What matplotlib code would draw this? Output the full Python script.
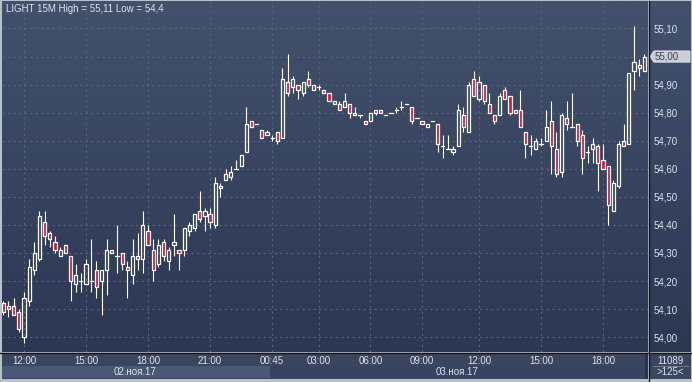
import numpy as np
import matplotlib
matplotlib.use("Agg")
import matplotlib.pyplot as plt
from matplotlib.patches import Rectangle, Polygon
from matplotlib import transforms

plt.rcParams["font.family"] = ["Liberation Sans", "DejaVu Sans"]

# 15-minute candles (125 bars)
opens = [54.12, 54.11, 54.11, 54.09, 54.00, 54.13, 54.24, 54.28, 54.41, 54.37,
         54.34, 54.29, 54.33, 54.29, 54.19, 54.20, 54.19, 54.20, 54.24, 54.20,
         54.24, 54.31, 54.29, 54.30, 54.25, 54.22, 54.28, 54.28, 54.38, 54.31,
         54.26, 54.34, 54.27, 54.33, 54.31, 54.31, 54.38, 54.39, 54.45, 54.43,
         54.44, 54.40, 54.53, 54.56, 54.57, 54.60, 54.61, 54.66, 54.77, 54.76,
         54.74, 54.72, 54.71, 54.73, 54.71, 54.91, 54.89, 54.90, 54.87, 54.92,
         54.88, 54.89, 54.88, 54.87, 54.83, 54.83, 54.82, 54.83, 54.79, 54.79,
         54.77, 54.77, 54.81, 54.81, 54.79, 54.80, 54.81, 54.82, 54.83, 54.82,
         54.78, 54.77, 54.75, 54.77, 54.76, 54.68, 54.67, 54.66, 54.68, 54.79,
         54.73, 54.92, 54.85, 54.90, 54.83, 54.79, 54.79, 54.88, 54.86, 54.81,
         54.81, 54.73, 54.68, 54.67, 54.69, 54.70, 54.77, 54.67, 54.59, 54.78,
         54.75, 54.76, 54.72, 54.66, 54.67, 54.68, 54.63, 54.61, 54.45, 54.54,
         54.70, 54.69, 54.95, 54.97, 54.95]
highs = [54.13, 54.13, 54.14, 54.10, 54.16, 54.28, 54.34, 54.45, 54.45, 54.38,
         54.36, 54.32, 54.33, 54.29, 54.26, 54.23, 54.28, 54.35, 54.27, 54.24,
         54.35, 54.31, 54.40, 54.30, 54.27, 54.35, 54.37, 54.45, 54.40, 54.35,
         54.35, 54.35, 54.32, 54.44, 54.31, 54.39, 54.41, 54.44, 54.52, 54.46,
         54.46, 54.57, 54.55, 54.60, 54.61, 54.63, 54.65, 54.82, 54.77, 54.76,
         54.74, 54.74, 54.72, 54.73, 54.96, 55.01, 54.93, 54.90, 54.91, 54.95,
         54.90, 54.90, 54.88, 54.87, 54.84, 54.84, 54.87, 54.83, 54.82, 54.79,
         54.77, 54.80, 54.81, 54.81, 54.79, 54.80, 54.82, 54.84, 54.83, 54.82,
         54.78, 54.77, 54.76, 54.77, 54.76, 54.72, 54.72, 54.68, 54.83, 54.82,
         54.91, 54.95, 54.93, 54.90, 54.87, 54.79, 54.87, 54.89, 54.86, 54.81,
         54.88, 54.73, 54.72, 54.71, 54.71, 54.81, 54.84, 54.73, 54.80, 54.84,
         54.87, 54.76, 54.74, 54.68, 54.71, 54.69, 54.69, 54.61, 54.56, 54.70,
         54.76, 54.94, 55.11, 54.99, 55.01]
lows = [54.08, 54.07, 54.08, 54.02, 53.98, 54.11, 54.22, 54.27, 54.33, 54.32,
        54.30, 54.29, 54.30, 54.13, 54.16, 54.16, 54.19, 54.16, 54.14, 54.08,
        54.15, 54.30, 54.23, 54.24, 54.14, 54.19, 54.24, 54.23, 54.33, 54.20,
        54.25, 54.27, 54.24, 54.29, 54.24, 54.29, 54.36, 54.38, 54.41, 54.38,
        54.39, 54.39, 54.50, 54.56, 54.56, 54.60, 54.61, 54.66, 54.75, 54.76,
        54.71, 54.72, 54.70, 54.69, 54.71, 54.86, 54.87, 54.85, 54.86, 54.89,
        54.88, 54.88, 54.87, 54.84, 54.83, 54.81, 54.82, 54.78, 54.79, 54.78,
        54.76, 54.77, 54.79, 54.80, 54.79, 54.80, 54.80, 54.81, 54.83, 54.76,
        54.78, 54.76, 54.75, 54.77, 54.66, 54.64, 54.67, 54.65, 54.68, 54.73,
        54.73, 54.86, 54.84, 54.83, 54.80, 54.76, 54.79, 54.85, 54.79, 54.80,
        54.75, 54.64, 54.65, 54.67, 54.68, 54.70, 54.58, 54.57, 54.57, 54.74,
        54.75, 54.68, 54.58, 54.62, 54.62, 54.52, 54.60, 54.40, 54.45, 54.53,
        54.68, 54.69, 54.88, 54.93, 54.95]
closes = [54.09, 54.10, 54.08, 54.03, 54.14, 54.25, 54.30, 54.43, 54.36, 54.35,
          54.31, 54.31, 54.30, 54.20, 54.22, 54.20, 54.26, 54.20, 54.18, 54.24,
          54.31, 54.30, 54.29, 54.26, 54.24, 54.29, 54.29, 54.40, 54.33, 54.24,
          54.33, 54.29, 54.31, 54.34, 54.30, 54.39, 54.40, 54.44, 54.42, 54.45,
          54.41, 54.55, 54.54, 54.58, 54.59, 54.60, 54.65, 54.76, 54.75, 54.76,
          54.71, 54.73, 54.71, 54.70, 54.92, 54.87, 54.92, 54.88, 54.91, 54.90,
          54.90, 54.89, 54.87, 54.84, 54.84, 54.81, 54.84, 54.80, 54.80, 54.79,
          54.76, 54.80, 54.80, 54.80, 54.79, 54.80, 54.81, 54.82, 54.83, 54.77,
          54.78, 54.76, 54.76, 54.77, 54.69, 54.68, 54.67, 54.67, 54.81, 54.75,
          54.90, 54.86, 54.91, 54.84, 54.80, 54.77, 54.86, 54.85, 54.80, 54.80,
          54.75, 54.69, 54.68, 54.70, 54.69, 54.75, 54.68, 54.58, 54.79, 54.76,
          54.75, 54.70, 54.64, 54.66, 54.69, 54.62, 54.60, 54.47, 54.55, 54.69,
          54.68, 54.94, 54.98, 54.96, 55.00]

time_ticks = [4, 16, 28, 40, 52, 61, 71, 81, 92, 104, 116]
time_labels = ["12:00", "15:00", "18:00", "21:00", "00:45", "03:00",
               "06:00", "09:00", "12:00", "15:00", "18:00"]
day_labels = ["02.ноя.17", "03.ноя.17"]
day_bounds = [(-0.7, 51.5), (51.5, 124.1)]
price_ticks = [54.0, 54.1, 54.2, 54.3, 54.4, 54.5, 54.6, 54.7, 54.8, 54.9, 55.0, 55.1]
title = "LIGHT 15M High = 55,11 Low = 54,4"
last_price = 55.00
bar_count = "11089"
zoom_label = ">125<"

W, H = 692, 382
TOP_BG, BOT_BG = np.array([0x43, 0x51, 0x6d]) / 255, np.array([0x2c, 0x37, 0x52]) / 255
TXT = "#dbe3ee"
GRID = "#56637e"
RED = "#e3103c"
PANEL = "#3a4660"


def box(x0, y0, x1, y1):
    return [x0 / W, 1 - y1 / H, (x1 - x0) / W, (y1 - y0) / H]


def gradient(a, top=TOP_BG, bot=BOT_BG):
    g = np.linspace(0, 1, 256)[:, None, None]
    img = top[None, None, :] * (1 - g) + bot[None, None, :] * g
    a.imshow(img, aspect="auto", extent=[0, 1, 0, 1], transform=a.transAxes,
             zorder=0, interpolation="bilinear")


def bare(a):
    a.set_xticks([])
    a.set_yticks([])
    for s in a.spines.values():
        s.set_visible(False)


fig = plt.figure(figsize=(W / 100, H / 100), dpi=100)
fig.patch.set_facecolor("#b7c1ce")

# right price-scale panel (background only)
axr = fig.add_axes(box(649, 1, 691, 352))
gradient(axr)
axr.set_axis_off()

# main price panel
ax = fig.add_axes(box(2, 1, 648, 352))
gradient(ax)
ax.set_xlim(-0.25, 124.7)
ax.set_ylim(53.947, 55.198)
for s in ax.spines.values():
    s.set_visible(False)
ax.set_xticks([])
ax.yaxis.tick_right()
ax.set_yticks(price_ticks)
ax.set_yticklabels([f"{p:.2f}".replace(".", ",") for p in price_ticks],
                   color=TXT, fontsize=7)
ax.tick_params(axis="y", length=0, pad=4)

for p in price_ticks:
    ax.axhline(p, color=GRID, lw=0.8, ls=(0, (2, 3)), zorder=1)
for t in time_ticks:
    ax.axvline(t, color=GRID, lw=0.8, ls=(0, (2, 3)), zorder=1)

bw = 0.62
for i, (o, h, l, c) in enumerate(zip(opens, highs, lows, closes)):
    top, bot = max(o, c), min(o, c)
    if h > top:
        ax.plot([i, i], [top, h], color="white", lw=0.8, zorder=3, solid_capstyle="butt")
    if l < bot:
        ax.plot([i, i], [l, bot], color="white", lw=0.8, zorder=3, solid_capstyle="butt")
    if abs(c - o) < 0.005:
        ax.plot([i - bw / 2, i + bw / 2], [o, o], color="white", lw=0.9, zorder=4)
    else:
        fc = RED if c < o else "none"
        ax.add_patch(Rectangle((i - bw / 2, bot), bw, top - bot, facecolor=fc,
                               edgecolor="white", lw=0.9, zorder=4))

ax.text(4 / 646, 1 - 7.5 / 351, title, transform=ax.transAxes, color=TXT,
        fontsize=7, va="center", ha="left", zorder=6)

# last price marker
tr = transforms.blended_transform_factory(fig.transFigure, ax.transData)
hh = 0.02
marker = Polygon([(650 / W, last_price), (654 / W, last_price + hh), (690 / W, last_price + hh),
                  (690 / W, last_price - hh), (654 / W, last_price - hh)],
                 closed=True, transform=tr, facecolor="#c9cdd5", edgecolor="#e6e9ee",
                 lw=0.6, zorder=7, clip_on=False)
ax.add_patch(marker)
ax.text(654.5 / W, last_price, f"{last_price:.2f}".replace(".", ","), transform=tr,
        color="#3b4660", fontsize=7, va="center", ha="left", zorder=8, clip_on=False)

# time axis panel
axb = fig.add_axes(box(2, 353, 648, 379))
axb.set_xlim(ax.get_xlim())
axb.set_ylim(0, 1)
axb.set_facecolor(PANEL)
bare(axb)
day_colors = ["#4b5874", "#374360"]
for (a, b), lab, col in zip(day_bounds, day_labels, day_colors):
    axb.add_patch(Rectangle((a, 0.04), b - a, 0.46, facecolor=col, edgecolor="none"))
    axb.text((a + b) / 2, 0.27, lab, color=TXT, fontsize=7, ha="center", va="center")
axb.add_patch(Rectangle((124.1, 0.0), 1.0, 1.0, facecolor="#2a3349", edgecolor="none"))
for t, lab in zip(time_ticks, time_labels):
    axb.text(t, 0.70, lab, color=TXT, fontsize=7, ha="center", va="center")

# corner panel
axc = fig.add_axes(box(650, 353, 691, 379))
axc.set_facecolor(PANEL)
bare(axc)
axc.text(0.5, 0.70, bar_count, transform=axc.transAxes, color=TXT, fontsize=7,
         ha="center", va="center")
axc.plot([0.08, 0.92], [0.5, 0.5], transform=axc.transAxes, color="#7c879c", lw=0.6)
axc.text(0.5, 0.27, zoom_label, transform=axc.transAxes, color=TXT, fontsize=7,
         ha="center", va="center")

# dark separators
fig.add_artist(plt.Line2D([0, 1], [1 - 352.5 / H] * 2, color="#10151f", lw=1.0))
fig.add_artist(plt.Line2D([649 / W] * 2, [0, 1 - 0.5 / H], color="#10151f", lw=1.0))

fig.savefig("out.png", dpi=100, facecolor=fig.get_facecolor())
